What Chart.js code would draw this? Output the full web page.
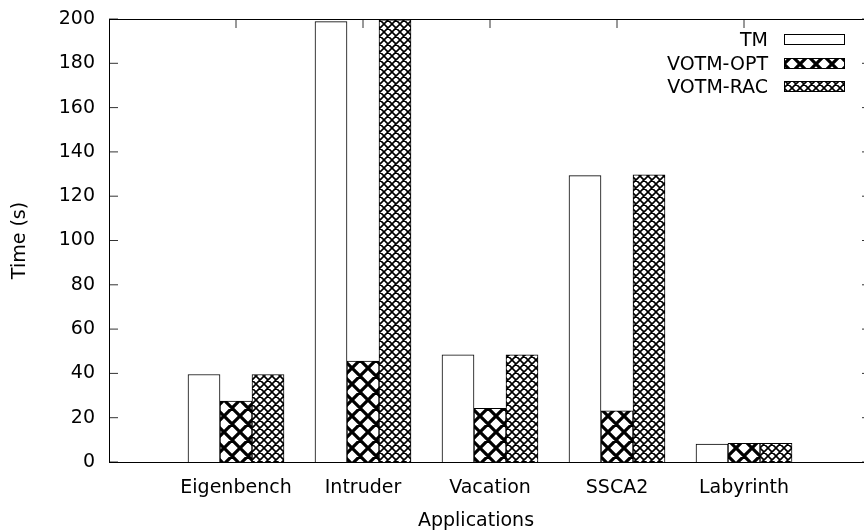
<!DOCTYPE html>
<html lang="en">
<head>
<meta charset="UTF-8">
<title>Application run times</title>
<script src="https://cdn.jsdelivr.net/npm/chart.js"></script>
<style>
  html, body { margin: 0; padding: 0; background: #fff; overflow: hidden; }
  .chart-box { width: 880px; height: 532px; }
</style>
</head>
<body>
<div class="chart-box"><canvas id="timeChart" width="880" height="532"></canvas></div>
<script>
// values
const applications = ['Eigenbench', 'Intruder', 'Vacation', 'SSCA2', 'Labyrinth'];
const seriesNames = ['TM', 'VOTM-OPT', 'VOTM-RAC'];
const tmTimes = [39.5, 198.8, 48.4, 129.3, 8.1];
const votmOptTimes = [27.5, 45.6, 24.2, 23.1, 8.4];
const votmRacTimes = [39.5, 199.6, 48.4, 129.7, 8.4];
const yTickValues = [0, 20, 40, 60, 80, 100, 120, 140, 160, 180, 200];

const canvas = document.getElementById('timeChart');
const ctx = canvas.getContext('2d');

// gnuplot-like cross hatch fills
function crossHatch(size, width) {
    const tile = document.createElement('canvas');
    tile.width = size;
    tile.height = size;
    const g = tile.getContext('2d');
    g.fillStyle = '#fff';
    g.fillRect(0, 0, size, size);
    g.strokeStyle = '#000';
    g.lineWidth = width;
    g.beginPath();
    for (let k = -1; k <= 2; k++) {
        g.moveTo(k * size - size, -size);
        g.lineTo(k * size + 2 * size, 2 * size);
        g.moveTo(k * size + size, -size);
        g.lineTo(k * size - 2 * size, 2 * size);
    }
    g.stroke();
    return ctx.createPattern(tile, 'repeat');
}

const fills = ['#fff', crossHatch(16, 3.2), crossHatch(8, 1.6)];
const seriesValues = [tmTimes, votmOptTimes, votmRacTimes];

const FONT = 'DejaVu Sans';
Chart.defaults.font.family = FONT;
Chart.defaults.font.size = 19;
Chart.defaults.color = '#000';

// border, inward ticks, key and axis titles
const framePlugin = {
    id: 'frame',
    beforeDatasetsDraw(chart) {
        const { ctx, chartArea: a, scales: { x, y } } = chart;
        ctx.save();
        ctx.strokeStyle = '#333';
        ctx.lineWidth = 1;
        ctx.beginPath();
        y.ticks.forEach(t => {
            const py = y.getPixelForValue(t.value);
            ctx.moveTo(a.left, py); ctx.lineTo(a.left + 9, py);
            ctx.moveTo(a.right, py); ctx.lineTo(a.right - 9, py);
        });
        x.ticks.forEach(t => {
            const px = x.getPixelForValue(t.value);
            ctx.moveTo(px, a.top); ctx.lineTo(px, a.top + 9);
            ctx.moveTo(px, a.bottom); ctx.lineTo(px, a.bottom - 9);
        });
        ctx.stroke();
        ctx.restore();
    },
    afterDatasetsDraw(chart) {
        const { ctx, chartArea: a } = chart;
        ctx.save();
        ctx.strokeStyle = '#000';
        ctx.lineWidth = 1;
        ctx.strokeRect(a.left + 0.5, a.top + 0.5, a.right - a.left, a.bottom - a.top);

        // key, top right
        ctx.font = '19px ' + FONT;
        ctx.textAlign = 'right';
        ctx.textBaseline = 'alphabetic';
        chart.data.datasets.forEach((ds, i) => {
            const cy = 39 + i * 23.7;
            ctx.fillStyle = '#000';
            ctx.fillText(ds.label, 768, cy + 7);
            ctx.fillStyle = ds.backgroundColor;
            ctx.fillRect(784, Math.round(cy) - 5, 60, 10);
            ctx.strokeRect(784.5, Math.round(cy) - 4.5, 60, 10);
        });

        // axis titles
        ctx.fillStyle = '#000';
        ctx.textAlign = 'center';
        ctx.textBaseline = 'middle';
        ctx.fillText('Applications', 476, 521);
        ctx.translate(20, (a.top + a.bottom) / 2);
        ctx.rotate(-Math.PI / 2);
        ctx.fillText('Time (s)', 0, 0);
        ctx.restore();
    }
};

new Chart(ctx, {
    type: 'bar',
    data: {
        datasets: seriesNames.map((name, i) => ({
            label: name,
            data: seriesValues[i].map((v, j) => ({ x: j, y: v })),
            backgroundColor: fills[i],
            borderColor: '#000',
            borderWidth: 1,
            barThickness: 32
        }))
    },
    options: {
        responsive: false,
        animation: false,
        devicePixelRatio: 1,
        layout: { padding: { left: 0, top: 19, right: 9, bottom: 0 } },
        plugins: {
            legend: { display: false },
            tooltip: { enabled: false }
        },
        scales: {
            x: {
                type: 'linear',
                offset: false,
                min: -1,
                max: 5,
                grid: { display: false, drawTicks: false },
                border: { display: false },
                afterBuildTicks: s => { s.ticks = applications.map((_, i) => ({ value: i })); },
                afterFit: s => {
                    s.height = 70;
                    s.paddingLeft = 0;
                    s.paddingRight = 0;
                },
                ticks: {
                    autoSkip: false,
                    maxRotation: 0,
                    padding: 15,
                    callback: v => applications[v]
                }
            },
            y: {
                min: 0,
                max: 200,
                grid: { display: false, drawTicks: false },
                border: { display: false },
                afterBuildTicks: s => { s.ticks = yTickValues.map(v => ({ value: v })); },
                afterFit: s => {
                    s.width = 109;
                    s.paddingTop = 0;
                    s.paddingBottom = 0;
                },
                ticks: { padding: 14 }
            }
        }
    },
    plugins: [framePlugin]
});
</script>
</body>
</html>
